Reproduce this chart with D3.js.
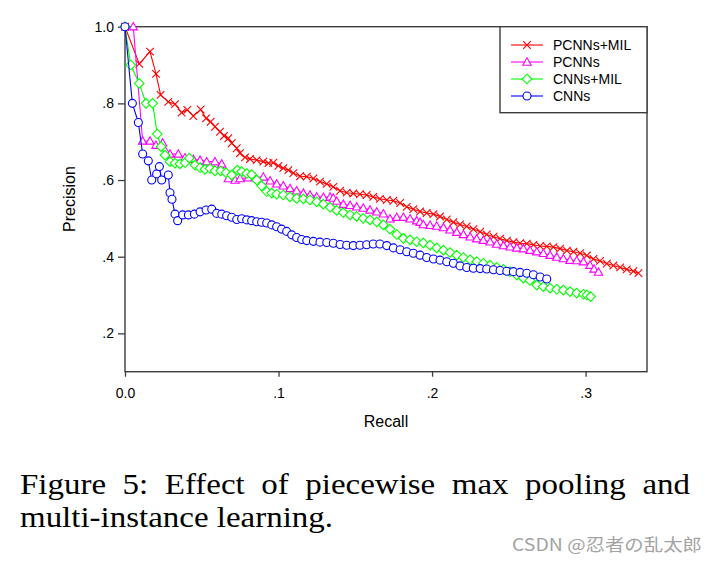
<!DOCTYPE html>
<html><head><meta charset="utf-8">
<script src="https://cdn.jsdelivr.net/npm/d3@7"></script>
<style>body{margin:0;background:#fff}svg{display:block}</style></head>
<body><svg id="c" width="717" height="564"></svg>
<script>
// ---- data ----
const seriesNames = ["PCNNs+MIL", "PCNNs", "CNNs+MIL", "CNNs"];
const seriesColors = ["#ff0000", "#ff00ff", "#00ff00", "#0000ff"];
const seriesMarkers = ["x", "triangle", "diamond", "circle"];
const xTicks = [0, 0.1, 0.2, 0.3];
const xTickLabels = ["0.0", ".1", ".2", ".3"];
const yTicks = [0.2, 0.4, 0.6, 0.8, 1.0];
const yTickLabels = [".2", ".4", ".6", ".8", "1.0"];
const xLabel = "Recall";
const yLabel = "Precision";
const captionLine1 = ["Figure", "5:", "Effect", "of", "piecewise", "max", "pooling", "and"];
const captionLine2 = "multi-instance learning.";
const watermark = "CSDN @忍者の乱太郎";

// [recall, precision]
const pcnnsMil = [[0,1.0],[0.0093,0.903],[0.0163,0.935],[0.0202,0.877],[0.0232,0.822],[0.0282,0.804],[0.0326,0.798],[0.0369,0.776],[0.0406,0.783],[0.0445,0.767],[0.0493,0.784],[0.0528,0.761],[0.0558,0.752],[0.0586,0.739],[0.0619,0.726],[0.0645,0.715],[0.0673,0.709],[0.0695,0.696],[0.0728,0.683],[0.0749,0.670],[0.0782,0.659],[0.0814,0.655],[0.0858,0.652],[0.0901,0.648],[0.0934,0.644],[0.0966,0.645],[0.0999,0.637],[0.1031,0.631],[0.1064,0.626],[0.1097,0.618],[0.114,0.610],[0.1184,0.609],[0.1227,0.604],[0.127,0.596],[0.1314,0.590],[0.1357,0.582],[0.1401,0.572],[0.1444,0.567],[0.1487,0.565],[0.153,0.563],[0.1574,0.561],[0.1617,0.556],[0.166,0.551],[0.1705,0.548],[0.1748,0.546],[0.1792,0.540],[0.1835,0.530],[0.1878,0.524],[0.1922,0.518],[0.1965,0.514],[0.2009,0.511],[0.2052,0.505],[0.2096,0.497],[0.2139,0.490],[0.2182,0.484],[0.2226,0.479],[0.2269,0.472],[0.2313,0.465],[0.2356,0.458],[0.24,0.452],[0.2443,0.447],[0.2487,0.442],[0.253,0.438],[0.2573,0.435],[0.2617,0.434],[0.266,0.431],[0.2704,0.428],[0.2747,0.427],[0.279,0.425],[0.2834,0.421],[0.2878,0.416],[0.2921,0.413],[0.2964,0.409],[0.3008,0.403],[0.3051,0.394],[0.3094,0.389],[0.3138,0.382],[0.3181,0.377],[0.3225,0.372],[0.3268,0.367],[0.3311,0.362],[0.3344,0.357]];
const pcnns = [[0.0054,1.0],[0.0115,0.702],[0.0163,0.702],[0.0202,0.691],[0.0245,0.697],[0.0293,0.668],[0.0347,0.668],[0.0391,0.658],[0.0445,0.654],[0.0489,0.652],[0.0532,0.648],[0.0586,0.648],[0.063,0.642],[0.0673,0.604],[0.0717,0.600],[0.0749,0.604],[0.0803,0.606],[0.0847,0.607],[0.0901,0.608],[0.0945,0.598],[0.0988,0.590],[0.1031,0.585],[0.1075,0.578],[0.1118,0.572],[0.1162,0.566],[0.1205,0.561],[0.1249,0.556],[0.1292,0.555],[0.1336,0.556],[0.1357,0.553],[0.1379,0.545],[0.1422,0.537],[0.1466,0.534],[0.1509,0.530],[0.1552,0.527],[0.1596,0.522],[0.164,0.517],[0.1683,0.512],[0.1726,0.499],[0.177,0.503],[0.1813,0.503],[0.1857,0.499],[0.19,0.494],[0.1922,0.490],[0.1943,0.484],[0.1987,0.482],[0.203,0.480],[0.2074,0.476],[0.2117,0.470],[0.2161,0.464],[0.2204,0.458],[0.2248,0.452],[0.2291,0.447],[0.2334,0.443],[0.2378,0.439],[0.2421,0.433],[0.2465,0.429],[0.2508,0.426],[0.2552,0.423],[0.2595,0.421],[0.2638,0.417],[0.2682,0.413],[0.2725,0.409],[0.2769,0.404],[0.2812,0.399],[0.2855,0.395],[0.2899,0.391],[0.2942,0.390],[0.2986,0.387],[0.3029,0.378],[0.3055,0.368],[0.3084,0.360]];
const cnnsMil = [[0,1.0],[0.0037,0.900],[0.0093,0.852],[0.0137,0.800],[0.018,0.800],[0.021,0.720],[0.0235,0.687],[0.0261,0.665],[0.0293,0.648],[0.0326,0.644],[0.0358,0.642],[0.0391,0.645],[0.0419,0.657],[0.0456,0.639],[0.0489,0.632],[0.0521,0.628],[0.0554,0.630],[0.0586,0.624],[0.0623,0.624],[0.0658,0.619],[0.0695,0.613],[0.0732,0.626],[0.076,0.622],[0.0793,0.617],[0.0825,0.614],[0.0858,0.600],[0.089,0.585],[0.0923,0.570],[0.0956,0.566],[0.0988,0.563],[0.1031,0.561],[0.1075,0.556],[0.1118,0.552],[0.1162,0.551],[0.1205,0.548],[0.1249,0.543],[0.1292,0.537],[0.1336,0.529],[0.1379,0.521],[0.1422,0.515],[0.1466,0.509],[0.1509,0.505],[0.1552,0.500],[0.1596,0.496],[0.164,0.491],[0.1683,0.483],[0.1726,0.472],[0.177,0.458],[0.1813,0.448],[0.1857,0.444],[0.19,0.439],[0.1943,0.436],[0.1987,0.430],[0.203,0.423],[0.2074,0.417],[0.2117,0.411],[0.2161,0.404],[0.2204,0.398],[0.2248,0.392],[0.2291,0.387],[0.2334,0.383],[0.2378,0.378],[0.2421,0.372],[0.2465,0.367],[0.2508,0.361],[0.2552,0.352],[0.2595,0.344],[0.2638,0.338],[0.2682,0.326],[0.2725,0.322],[0.2769,0.318],[0.2812,0.315],[0.2855,0.313],[0.2899,0.309],[0.2942,0.305],[0.2986,0.302],[0.3008,0.300],[0.3033,0.296]];
const cnns = [[0,1.0],[0.0048,0.800],[0.0087,0.750],[0.0115,0.668],[0.0152,0.650],[0.0174,0.600],[0.0206,0.616],[0.0224,0.635],[0.0239,0.600],[0.0282,0.613],[0.0293,0.567],[0.0306,0.550],[0.0326,0.511],[0.0343,0.494],[0.0376,0.509],[0.0413,0.509],[0.0452,0.511],[0.0489,0.517],[0.0528,0.522],[0.0565,0.524],[0.0597,0.513],[0.063,0.511],[0.0662,0.507],[0.0695,0.503],[0.0728,0.497],[0.076,0.499],[0.0793,0.496],[0.0825,0.494],[0.0858,0.491],[0.089,0.490],[0.0923,0.488],[0.0956,0.483],[0.0988,0.478],[0.102,0.472],[0.1053,0.466],[0.1086,0.457],[0.1118,0.450],[0.1151,0.445],[0.1184,0.442],[0.1227,0.440],[0.127,0.438],[0.1314,0.437],[0.1357,0.435],[0.1401,0.432],[0.1444,0.430],[0.1487,0.429],[0.153,0.430],[0.1574,0.431],[0.1617,0.433],[0.166,0.433],[0.1705,0.429],[0.1748,0.423],[0.1792,0.418],[0.1835,0.413],[0.1878,0.409],[0.1922,0.404],[0.1965,0.398],[0.2009,0.394],[0.2052,0.391],[0.2096,0.387],[0.2139,0.383],[0.2182,0.376],[0.2226,0.372],[0.2269,0.370],[0.2313,0.369],[0.2356,0.368],[0.24,0.366],[0.2443,0.364],[0.2487,0.362],[0.253,0.361],[0.2573,0.359],[0.2617,0.357],[0.266,0.353],[0.2704,0.347],[0.2747,0.342]];
const seriesData = [pcnnsMil, pcnns, cnnsMil, cnns];

// ---- drawing ----
const svg = d3.select("#c");
svg.append("rect").attr("width", 717).attr("height", 564).attr("fill", "#fff");
const L = 125, R = 647, T = 26.7, B = 371.7;
const x = d3.scaleLinear().domain([0, 0.34]).range([L, R]);
const y = d3.scaleLinear().domain([0.1, 1.0]).range([B, T]);
const sansFont = "'Liberation Sans', Arial, Helvetica, sans-serif";
const axisColor = "#3c3c3c";

function markerPath(type) {
  switch (type) {
    case "x": return "M-3.8,-3.8L3.8,3.8M-3.8,3.8L3.8,-3.8";
    case "triangle": return "M0,-4.2L4.2,3.2L-4.2,3.2Z";
    case "diamond": return "M0,-4.8L4.8,0L0,4.8L-4.8,0Z";
    default: return "M4,0A4,4 0 1,1 -4,0A4,4 0 1,1 4,0Z";
  }
}

// frame
svg.append("rect").attr("x", L).attr("y", T).attr("width", R - L).attr("height", B - T)
  .attr("fill", "none").attr("stroke", axisColor).attr("stroke-width", 1.4);

const yAxis = svg.append("g").attr("transform", `translate(${L},0)`)
  .call(d3.axisLeft(y).tickValues(yTicks).tickFormat((d, i) => yTickLabels[i]).tickSize(7).tickPadding(4).tickSizeOuter(0));
const xAxis = svg.append("g").attr("transform", `translate(0,${B})`)
  .call(d3.axisBottom(x).tickValues(xTicks).tickFormat((d, i) => xTickLabels[i]).tickSize(5).tickPadding(11).tickSizeOuter(0));
[xAxis, yAxis].forEach(g => {
  g.select(".domain").remove();
  g.selectAll(".tick line").attr("stroke", axisColor).attr("stroke-width", 1.3);
  g.selectAll(".tick text").attr("fill", "#000").style("font-family", sansFont).style("font-size", "14px");
});

svg.append("text").attr("x", (L + R) / 2).attr("y", 427).attr("text-anchor", "middle")
  .style("font-family", sansFont).style("font-size", "16px").text(xLabel);
svg.append("text").attr("transform", "translate(75,199) rotate(-90)").attr("text-anchor", "middle")
  .style("font-family", sansFont).style("font-size", "16px").text(yLabel);

// series
const line = d3.line().x(d => x(d[0])).y(d => y(d[1]));
seriesData.forEach((data, i) => {
  const g = svg.append("g");
  g.append("path").datum(data).attr("d", line).attr("fill", "none")
    .attr("stroke", seriesColors[i]).attr("stroke-width", 1.1);
  g.selectAll("path.m").data(data).join("path").attr("class", "m")
    .attr("transform", d => `translate(${x(d[0])},${y(d[1])})`)
    .attr("d", markerPath(seriesMarkers[i]))
    .attr("fill", seriesMarkers[i] === "x" ? "none" : "#fff")
    .attr("stroke", seriesColors[i]).attr("stroke-width", 1.1);
});

// legend
const lg = svg.append("g");
lg.append("rect").attr("x", 500).attr("y", T).attr("width", R - 500).attr("height", 86)
  .attr("fill", "#fff").attr("stroke", axisColor).attr("stroke-width", 1.4);
const rowY = [45, 62, 79, 96];
seriesNames.forEach((n, i) => {
  lg.append("line").attr("x1", 511).attr("x2", 543).attr("y1", rowY[i]).attr("y2", rowY[i])
    .attr("stroke", seriesColors[i]).attr("stroke-width", 1.1);
  lg.append("path").attr("transform", `translate(527,${rowY[i]})`).attr("d", markerPath(seriesMarkers[i]))
    .attr("fill", seriesMarkers[i] === "x" ? "none" : "#fff").attr("stroke", seriesColors[i]).attr("stroke-width", 1.1);
  lg.append("text").attr("x", 553).attr("y", rowY[i]).attr("dy", "0.36em")
    .style("font-family", sansFont).style("font-size", "14px").text(n);
});

// caption
const serif = "'Liberation Serif', 'Times New Roman', Times, serif";
const cap = svg.append("g").style("font-family", serif).style("font-size", "29px").attr("fill", "#000");
const t2 = cap.append("text").attr("x", 20).attr("y", 526.5).text(captionLine2);
const w2 = t2.node().getComputedTextLength();
const f = 313 / w2;
t2.attr("textLength", 313).attr("lengthAdjust", "spacingAndGlyphs");
const words = captionLine1.map(w => {
  const t = cap.append("text").attr("y", 494).text(w);
  return { t, w: t.node().getComputedTextLength() * f };
});
const total = d3.sum(words, d => d.w);
const gap = (670 - total) / (words.length - 1);
let cx = 20;
words.forEach(d => {
  d.t.attr("x", cx).attr("textLength", d.w).attr("lengthAdjust", "spacingAndGlyphs");
  cx += d.w + gap;
});

svg.append("text").attr("x", 512).attr("y", 551).attr("textLength", 190).attr("lengthAdjust", "spacingAndGlyphs")
  .style("font-family", "'Noto Sans CJK SC', 'Noto Sans', sans-serif").style("font-size", "17px")
  .attr("fill", "#a3a3a3").text(watermark);
</script></body></html>
